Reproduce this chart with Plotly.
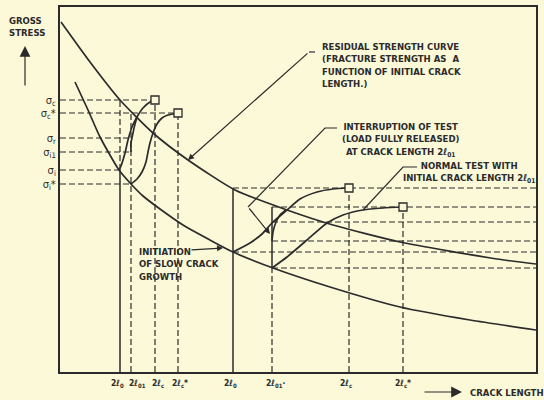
import plotly.graph_objects as go

# ---------------- data (chart units: crack length x, gross stress y) ----------------
# residual strength curve (fracture strength as a function of initial crack length)
residual_x = [1, 30, 60, 93, 128, 175, 227, 273, 340, 437, 476]
residual_y = [350, 310, 272, 239, 212, 182, 162, 147, 130, 113, 108]
# initiation of slow crack growth curve
initiation_x = [15, 28, 40, 59, 71, 83, 100, 123, 150, 173, 213, 270, 340, 410, 476]
initiation_y = [290, 262, 235, 202, 188, 176, 163, 147, 132, 120, 104, 85, 65, 52, 42]

# crack growth curves, left specimen group
left_test_x = [59, 61, 63, 65, 68, 72, 77, 83, 90, 95]
left_test_y = [202, 206, 212, 219, 232, 245, 255, 264, 270, 272]
left_reload_x = [71, 71, 73, 75, 77]
left_reload_y = [220, 229, 239, 248, 255]
left_test01_x = [71, 77, 82, 86, 88, 90, 93, 97, 102, 108, 118]
left_test01_y = [188, 193, 200, 210, 220, 229, 239, 248, 254, 257, 259]

# crack growth curves, right specimen group
right_test_x = [173, 190, 202, 212, 227, 240, 257, 273, 289]
right_test_y = [120, 129, 138, 149, 162, 173, 180, 183, 184]
right_reload_x = [212, 213, 216, 220, 226]
right_reload_y = [131, 140, 150, 157, 162]
right_test01_x = [212, 227, 247, 267, 283, 303, 323, 343]
right_test01_y = [104, 115, 132, 149, 157, 162, 164, 165]

# fracture points (open boxes)
fracture_x = [95, 118, 289, 343]
fracture_y = [272, 259, 184, 165]

# crack length ticks
crack_vals = [60, 71, 95, 118, 173, 212, 289, 343]
crack_labels = ["2ℓ<sub>0</sub>", "2ℓ<sub>01</sub>", "2ℓ<sub>c</sub>", "2ℓ<sub>c</sub>*",
                "2ℓ<sub>0</sub>", "2ℓ<sub>01</sub>·", "2ℓ<sub>c</sub>", "2ℓ<sub>c</sub>*"]

# stress level ticks (left group)
stress_vals = [272, 259, 234, 220, 202, 188]
stress_labels = ["σ<sub>c</sub>", "σ<sub>c</sub>*", "σ<sub>r</sub>", "σ<sub>i1</sub>",
                 "σ<sub>i</sub>", "σ<sub>i</sub>*"]

# vertical guide lines (dashed)
vdash_x = [60, 71, 95, 118, 212, 289, 343]
vdash_y0 = [202, 0, 0, 0, 0, 0, 0]
vdash_y1 = [272, 259, 272, 259, 104, 184, 165]
# vertical guide lines (solid)
vsolid_x = [60, 173, 212]
vsolid_y0 = [0, 0, 104]
vsolid_y1 = [202, 184, 165]

# horizontal guide lines (dashed)
h_y = [272, 259, 234, 220, 202, 188, 184, 165, 150, 131, 120, 104]
h_x0 = [0, 0, 0, 0, 0, 0, 173, 212, 212, 212, 173, 212]
h_x1 = [95, 118, 68, 71, 60, 71, 476, 476, 476, 476, 476, 476]

X_MAX, Y_MAX = 476, 365

INK = "#2b2b2b"
BG = "#fcf9d9"
FONT = "DejaVu Sans Condensed"
# horizontal pixel nudges of the crack-length labels (style only)
LABEL_NUDGE = [-3, 6, 3, 2, -3, 3, -3, 0]

fig = go.Figure()

def seg_trace(xs0, xs1, ys0, ys1, dash, width):
    xs, ys = [], []
    for a, b, c, d in zip(xs0, xs1, ys0, ys1):
        xs += [a, b, None]
        ys += [c, d, None]
    fig.add_trace(go.Scatter(x=xs, y=ys, mode="lines", hoverinfo="skip",
                             line=dict(color=INK, width=width, dash=dash), showlegend=False))

seg_trace(h_x0, h_x1, h_y, h_y, "6px,3px", 1.2)
seg_trace(vdash_x, vdash_x, vdash_y0, vdash_y1, "6px,3px", 1.2)
seg_trace(vsolid_x, vsolid_x, vsolid_y0, vsolid_y1, "solid", 1.5)

for xs, ys in [(residual_x, residual_y), (initiation_x, initiation_y),
               (left_test_x, left_test_y), (left_reload_x, left_reload_y),
               (left_test01_x, left_test01_y), (right_test_x, right_test_y),
               (right_reload_x, right_reload_y), (right_test01_x, right_test01_y)]:
    fig.add_trace(go.Scatter(x=xs, y=ys, mode="lines",
                             line=dict(color=INK, width=1.7, shape="spline", smoothing=0.6),
                             hoverinfo="skip", showlegend=False))

# leader line pieces
fig.add_trace(go.Scatter(x=[255, 249], y=[320, 320], mode="lines", line=dict(color=INK, width=1.2),
                         showlegend=False, hoverinfo="skip"))
fig.add_trace(go.Scatter(x=[277, 265, 188], y=[244, 244, 165], mode="lines", line=dict(color=INK, width=1.2),
                         showlegend=False, hoverinfo="skip"))
fig.add_trace(go.Scatter(x=[357, 343, 303], y=[205, 205, 162], mode="lines", line=dict(color=INK, width=1.2),
                         showlegend=False, hoverinfo="skip"))

fig.add_trace(go.Scatter(x=fracture_x, y=fracture_y, mode="markers",
                         marker=dict(symbol="square", size=8, color=BG, line=dict(color=INK, width=1.3)),
                         showlegend=False, hoverinfo="skip"))

def arrow(x, y, ax, ay, size=1.0, width=1.2):
    fig.add_annotation(x=x, y=y, ax=ax, ay=ay, xref="x", yref="y", axref="x", ayref="y", text="",
                       showarrow=True, arrowhead=2, arrowsize=size, arrowwidth=width, arrowcolor=INK,
                       standoff=0)

arrow(128, 212, 249, 320)
arrow(210, 138, 188, 165)
arrow(163, 124, 130, 122)

# arrows outside the plot area (paper coords, pixel offsets)
def outer_arrow(x, y, dx_px, dy_px, size=1.8, width=1.2):
    fig.add_annotation(x=x / X_MAX, y=y / Y_MAX, xref="paper", yref="paper", ax=dx_px, ay=dy_px,
                       text="", showarrow=True, arrowhead=2, arrowsize=size, arrowwidth=width,
                       arrowcolor=INK, standoff=0)

outer_arrow(-35, 326, 0, 41)
outer_arrow(402, -20, -39, 0)

def label(x, y, text, xanchor="left", align="left", size=9.5, paper=False):
    fig.add_annotation(x=x / X_MAX if paper else x, y=y / Y_MAX if paper else y,
                       xref="paper" if paper else "x", yref="paper" if paper else "y",
                       text=text, showarrow=False,
                       xanchor=xanchor, yanchor="middle", align=align,
                       font=dict(family=FONT, size=size, color=INK, weight="bold"))

label(-53, 346, "GROSS<br>STRESS", size=9.5, paper=True)
label(260, 307, "RESIDUAL STRENGTH CURVE<br>(FRACTURE STRENGTH AS  A<br>FUNCTION OF INITIAL CRACK<br>LENGTH.)")
label(340, 232, "INTERRUPTION OF TEST<br>(LOAD FULLY RELEASED)<br>AT CRACK LENGTH 2ℓ<sub>01</sub>",
      xanchor="center", align="center")
label(409, 200, "NORMAL TEST WITH<br>INITIAL CRACK LENGTH 2ℓ<sub>01</sub>", xanchor="center", align="center")
label(77, 108, "INITIATION<br>OF SLOW CRACK<br>GROWTH")
label(408, -20, "CRACK LENGTH", paper=True)

# crack length labels under the axis
for v, t, nudge in zip(crack_vals, crack_labels, LABEL_NUDGE):
    fig.add_annotation(x=v, y=-11 / Y_MAX, xref="x", yref="paper", text=t, showarrow=False,
                       xanchor="center", yanchor="middle", xshift=nudge,
                       font=dict(family=FONT, size=8.5, color=INK, weight="bold"))

fig.update_layout(
    width=544, height=400,
    margin=dict(l=60, r=8, t=7, b=28),
    paper_bgcolor=BG, plot_bgcolor=BG,
    font=dict(family=FONT, color=INK),
    xaxis=dict(range=[0, X_MAX], showgrid=False, zeroline=False, showline=True, mirror=True,
               linecolor=INK, linewidth=2, ticks="", tickvals=crack_vals, showticklabels=False,
               automargin=False, fixedrange=True),
    yaxis=dict(range=[0, Y_MAX], showgrid=False, zeroline=False, showline=True, mirror=True,
               linecolor=INK, linewidth=2, ticks="", tickvals=stress_vals, ticktext=stress_labels,
               automargin=False,
               tickfont=dict(family=FONT, size=11, color=INK), fixedrange=True),
)

fig.write_html("out.html", config={"displayModeBar": False},
               post_script="document.body.style.margin='0';document.body.style.background='#fcf9d9';")
